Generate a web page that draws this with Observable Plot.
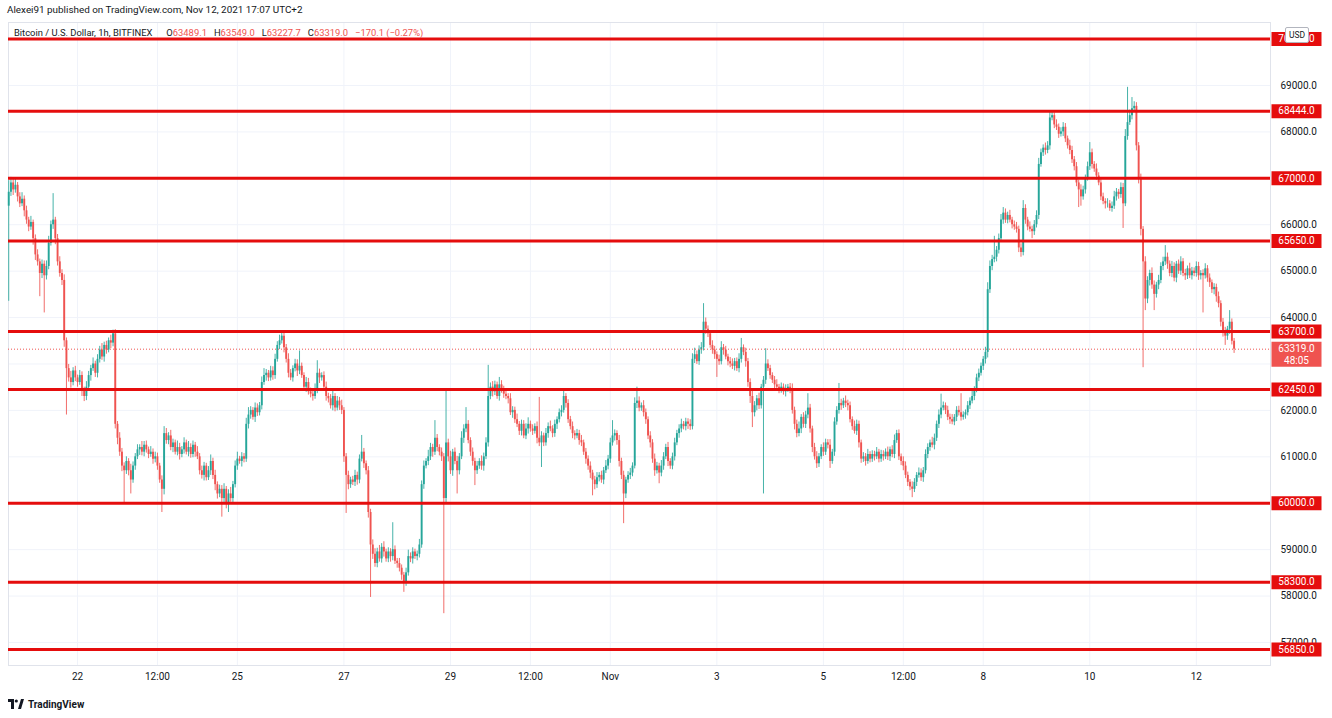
<!DOCTYPE html>
<html>
<head>
<meta charset="utf-8">
<script src="https://cdn.jsdelivr.net/npm/d3@7"></script>
<script src="https://cdn.jsdelivr.net/npm/@observablehq/plot@0.6"></script>
<style>
  html, body { margin: 0; padding: 0; background: #ffffff; width: 1332px; height: 718px; overflow: hidden; }
  body { position: relative; font-family: Roboto, "Liberation Sans", sans-serif; color: #131722; }
  #header { position: absolute; left: 7px; top: 4px; font-size: 9.9px; color: #131722; white-space: nowrap; }
  #chart { position: absolute; left: 0; top: 22px; }
  #legend { position: absolute; left: 14px; top: 27px; font-size: 9.4px; color: #131722; white-space: nowrap; }
  #legend .t { margin-right: 14px; }
  #legend .v { color: #ef5350; margin-right: 7px; }
  #usd { position: absolute; left: 1285px; top: 27px; width: 22px; height: 14px; background: #fff; border: 1px solid #b2b5be; border-radius: 2px; font-size: 8.5px; line-height: 14px; text-align: center; color: #131722; }
  #footer { position: absolute; left: 8px; top: 696px; height: 16px; display: flex; align-items: center; font-size: 10px; font-weight: 700; color: #131722; }
  #footer svg { margin-right: 4px; }
</style>
</head>
<body>
<div id="header">Alexei91 published on TradingView.com, Nov 12, 2021 17:07 UTC+2</div>
<div id="chart"></div>
<div id="legend"></div>
<div id="usd">USD</div>
<div id="footer"><svg width="16" height="10" viewBox="0 0 16 10"><path d="M0 0h6v10H3V3H0z" fill="#131722"/><circle cx="8.3" cy="2" r="1.6" fill="#131722"/><path d="M10 10L13 0h3l-3 10z" fill="#131722"/></svg>TradingView</div>
<script>
// ---------- data (hourly candles, Bitfinex BTC/USD, from Oct 20 17:00 to Nov 12 17:00) ----------
const firstHour = -31;        // first candle, hours relative to Oct 22 00:00
const firstOpen = 66400;
const closes = [
  66700,66900,66750,66850,66600,66450,66550,66300,66100,65950,66050,65700,65350,65200,64950,65150,64900,65100,65600,66000,66100,65700,65200,64950,
  64800,63500,62900,62700,62600,62850,62700,62600,62750,62450,62300,62500,62750,62900,63000,62800,63100,63300,63150,63400,63300,63500,63450,63650,
  61700,61400,61100,60800,60700,60900,60700,60500,60800,61000,61150,61200,61100,61250,61150,61050,61100,60950,61000,60800,60500,60300,61500,61350,
  61450,61200,61300,61100,61200,61050,61150,61300,61100,61200,61050,61250,61100,61000,60700,60600,60800,60550,60700,60900,60600,60400,60200,60300,
  60100,60300,60000,60200,60100,60400,60800,60950,60900,61000,60950,61700,61900,62000,61850,62050,61950,62100,62600,62750,62800,62700,62850,62750,
  63100,63400,63500,63600,63350,63100,62800,62700,62900,63000,62850,62950,62750,62500,62600,62400,62350,62300,62450,62800,62700,62750,62500,62300,
  62250,62100,62300,62050,62200,62100,62000,61000,60600,60400,60500,60450,60600,60500,60950,61100,60850,60700,59800,59100,58900,58700,58950,58800,
  59050,58950,58800,58950,58850,59000,58750,58700,58600,58450,58300,58500,58850,58800,58950,58850,58900,59100,60400,60800,60900,61000,61200,61100,
  61400,61200,61100,61000,60100,61300,61000,60700,61100,60900,60700,61000,61400,61600,61700,61350,61100,60900,60700,60800,60900,60800,61000,61300,
  62300,62500,62400,62550,62300,62550,62450,62350,62300,62250,61950,62000,61800,61700,61550,61700,61450,61600,61700,61600,61550,61650,61400,61300,
  61450,61300,61500,61650,61600,61500,61700,61800,61950,62000,62300,62150,61800,61650,61500,61450,61500,61350,61300,61100,60950,60800,60650,60500,
  60400,60550,60600,60500,60700,60800,60950,61300,61450,61500,61350,60900,60600,60200,60500,60600,60650,60800,62150,62200,62050,62100,61950,61800,
  61450,61300,60950,60700,60800,60650,60800,61000,61200,60900,60800,61000,61300,61500,61600,61700,61650,61750,61700,61650,63100,63200,63050,63300,
  63350,63900,63750,63650,63400,63300,63200,63100,63050,63350,63300,63150,63050,63000,62950,63050,62900,63100,63350,63250,63050,62600,62300,61950,
  62100,62250,62100,62500,62650,63000,62900,62750,62650,62550,62500,62450,62500,62400,62450,62500,62450,62000,61700,61500,61600,61850,61700,61900,
  62050,61600,61200,61000,60850,61000,61200,61100,61300,61250,60900,61100,61750,62000,62150,62100,62200,62150,62100,61800,61650,61550,61700,61300,
  60950,61000,60900,61050,60950,61050,61000,61100,60950,61050,61000,61100,61000,61150,61050,61350,61500,61000,60900,60800,60600,60450,60350,60300,
  60450,60600,60650,60550,60700,61050,61200,61300,61250,61400,61700,61900,62050,62100,62000,61850,61800,61750,61850,62000,61950,61850,61900,61950,
  62100,62200,62300,62450,62700,62800,62950,63100,63250,64600,65100,65250,65300,65450,65700,66100,66250,66100,66200,66100,66000,65950,65900,65500,
  65400,66350,66100,65950,65900,65850,66000,66200,67300,67550,67650,67600,67700,68300,68350,68150,68100,67950,68000,68100,67850,67700,67600,67400,
  67250,66900,66750,66600,66750,67000,67250,67550,67300,67200,67050,66900,66600,66500,66450,66450,66350,66400,66600,66700,66650,66800,66450,67900,
  68200,68350,68500,68550,67700,67000,65900,65200,64400,64800,64950,64700,64500,64700,64800,65100,65200,65300,65150,64950,65100,64850,65150,65000,
  65200,64950,64900,65050,64900,65000,64950,65100,64900,64950,64900,65050,64850,64750,64600,64650,64450,64300,63900,63700,63600,63750,63900,63489.1,63319.0
];
// upper / lower wick lengths in dollars, beyond the candle body
const wickUp = [
  250,120,80,150,60,90,140,70,100,60,130,50,80,110,60,90,70,120,150,80,570,60,90,110,
  80,120,60,90,140,70,100,60,110,80,50,120,90,70,130,60,100,80,140,70,90,60,120,80,
  90,60,120,80,70,100,60,140,90,70,110,60,130,80,90,60,120,70,100,80,60,90,150,110,
  70,120,80,60,140,90,70,110,60,130,80,90,60,120,70,100,80,60,90,140,70,110,60,90,
  80,120,60,90,140,70,110,150,60,90,70,130,160,80,60,110,90,70,120,150,80,60,100,90,
  110,80,120,60,90,70,120,80,60,100,90,330,70,60,110,90,80,60,120,270,90,60,80,110,
  70,90,130,60,100,80,120,60,70,90,60,80,110,70,90,360,80,60,90,70,110,120,80,140,
  80,120,60,90,70,580,80,60,110,70,60,100,140,80,90,60,70,120,80,110,60,140,90,70,
  380,80,60,90,70,1130,80,120,60,90,110,70,140,90,360,80,60,90,70,100,60,120,80,110,
  670,90,120,80,60,160,90,70,100,60,110,80,70,120,60,90,80,110,140,70,90,60,100,880,
  90,60,110,80,120,70,90,60,80,100,130,60,80,70,100,60,90,70,110,60,80,70,90,60,
  80,110,60,90,70,120,80,100,330,80,60,110,70,90,60,80,100,70,120,300,90,60,110,80,
  60,90,70,110,80,60,120,90,70,110,60,80,100,70,90,110,60,80,70,100,120,140,80,90,
  110,400,90,70,60,100,80,60,90,130,70,80,60,90,110,70,80,120,200,60,90,70,80,110,
  90,70,120,60,80,330,90,70,60,80,110,60,90,70,100,60,80,120,70,90,150,60,100,80,
  310,80,60,90,110,70,60,100,80,70,120,60,90,80,430,90,60,110,70,80,60,120,90,70,
  60,90,70,110,60,80,70,100,60,90,80,70,110,60,90,120,70,80,60,100,90,70,60,110,
  80,60,110,90,70,100,80,60,120,90,70,110,300,80,60,90,70,110,60,80,90,410,70,60,
  90,70,110,60,80,90,70,60,110,150,120,90,450,80,100,120,120,90,70,110,60,80,100,70,
  90,170,80,60,110,70,90,100,130,80,70,110,90,160,80,60,110,70,90,100,80,60,120,90,
  70,90,60,110,80,70,100,220,80,60,110,70,90,80,60,110,70,90,120,80,60,100,90,150,
  760,120,240,100,80,70,90,60,110,80,70,120,90,60,110,80,100,250,90,70,110,80,60,90,
  110,70,90,60,120,80,70,100,90,60,80,110,70,90,60,80,70,100,60,80,90,60,250,70,59.9
];
const wickDn = [
  2050,90,120,70,110,80,60,130,90,100,70,140,120,90,500,110,800,90,70,60,100,130,90,80,
  110,140,1000,90,120,70,80,100,60,150,110,90,70,120,60,90,100,80,70,110,90,60,120,80,
  100,140,90,120,700,80,110,300,70,90,60,120,80,100,70,90,60,110,80,90,70,500,120,80,
  90,70,110,60,80,120,70,90,60,100,80,70,110,60,90,80,120,70,60,100,90,130,110,80,
  400,90,120,200,80,110,70,90,60,120,80,70,100,90,60,110,80,70,90,60,120,80,70,100,
  80,60,90,70,110,80,100,60,90,70,120,80,60,90,110,70,80,100,60,90,120,70,80,100,
  90,70,110,80,60,100,90,120,820,110,80,70,90,110,80,60,100,90,120,1130,110,80,90,70,
  90,110,70,80,120,90,70,100,80,110,220,90,70,80,110,60,90,80,70,100,60,90,80,110,
  70,90,80,100,2480,90,110,80,120,70,500,90,60,110,80,70,90,100,320,80,70,90,110,60,
  90,70,110,80,60,100,80,90,70,110,60,120,80,70,90,100,60,80,110,70,90,60,120,80,
  530,80,70,100,60,90,80,110,70,90,60,100,80,70,110,90,60,100,80,70,110,90,120,340,
  110,80,90,70,100,60,80,90,70,110,100,120,90,640,100,70,90,80,60,110,80,70,90,100,
  80,110,90,120,70,230,80,90,60,110,70,80,90,60,100,80,70,90,110,80,70,90,60,80,
  90,70,110,80,60,90,100,390,80,70,110,60,90,80,70,100,60,90,80,70,120,100,150,320,
  90,110,80,70,2300,90,60,80,70,100,60,90,80,70,110,60,90,80,120,90,70,100,80,90,
  80,90,110,70,100,80,60,90,70,80,150,60,90,70,80,100,60,90,110,70,80,60,90,110,
  90,70,100,60,80,70,90,60,80,70,90,60,80,100,70,90,60,80,90,100,70,90,80,180,
  70,90,60,80,100,70,90,80,60,100,70,90,80,60,90,70,100,60,80,90,70,80,60,90,
  70,80,60,90,70,80,60,90,100,120,80,90,70,100,80,60,90,70,80,60,90,70,80,100,
  100,70,90,80,60,150,80,70,90,60,80,100,70,90,60,80,70,90,60,100,80,70,90,80,
  90,80,380,200,70,90,60,80,100,70,90,60,80,70,110,90,60,80,70,90,100,80,530,60,
  80,60,90,70,110,120,140,2280,250,100,120,90,350,80,100,70,90,80,110,70,90,80,100,70,
  90,70,100,80,60,90,70,80,100,90,800,70,90,100,80,110,120,90,100,120,200,90,110,80,91.3
];
// horizontal support / resistance levels drawn by the author
const levels = [70000, 68444, 67000, 65650, 63700, 62450, 60000, 58300, 56850];
const lastPrice = 63319.0;
const countdown = "48:05";
// axes
const priceTicks = [57000, 58000, 59000, 60000, 61000, 62000, 63000, 64000, 65000, 66000, 67000, 68000, 69000];
const timeTicks  = [0, 36, 72, 120, 168, 204, 240, 288, 336, 372, 408, 456, 504]; // hours from Oct 22 00:00
const timeLabels = ["22", "12:00", "25", "27", "29", "12:00", "Nov", "3", "5", "12:00", "8", "10", "12"];
// legend
const legendTitle = "Bitcoin / U.S. Dollar, 1h, BITFINEX";
const legendKeys = ["O", "H", "L", "C", ""];
const legendVals = ["63489.1", "63549.0", "63227.7", "63319.0", "\u2212170.1 (\u22120.27%)"];

// ---------- build ----------
const UP = "#26a69a", DOWN = "#ef5350", LEVEL = "#e50d0d";
const candles = closes.map((c, i) => {
  const o = i === 0 ? firstOpen : closes[i - 1];
  return { h: firstHour + i, o, c, hi: Math.max(o, c) + wickUp[i], lo: Math.min(o, c) - wickDn[i], up: c >= o };
});

const W = 1332, H = 672;
const boxW = 50;
const levelBox = { draw(ctx) { ctx.rect(-boxW / 2, -7, boxW, 14); } };
const priceBox = { draw(ctx) { ctx.rect(-boxW / 2, -7.5, boxW, 25); } };
// TradingView hides a price-scale label where a level / price label sits on top of it
const shownTicks = priceTicks.filter(t =>
  !levels.some(l => Math.abs(l - t) < 100) && !(t > lastPrice - 500 && t < lastPrice + 250));

const chart = Plot.plot({
  width: W,
  height: H,
  marginLeft: 8,
  marginRight: 62,
  marginTop: 0,
  marginBottom: 29,
  style: { fontFamily: "Roboto, 'Liberation Sans', sans-serif", fontSize: "10px", color: "#131722", background: "#ffffff" },
  x: { type: "linear", domain: [-31.1, 537.4], label: null },
  y: { type: "linear", domain: [56504, 70357], label: null },
  marks: [
    Plot.gridY(priceTicks, { stroke: "#f0f3fa", strokeOpacity: 1 }),
    Plot.gridX(timeTicks, { stroke: "#f0f3fa", strokeOpacity: 1 }),
    Plot.frame({ stroke: "#e0e3eb" }),
    Plot.ruleX(candles, { x: "h", y1: "lo", y2: "hi", stroke: d => d.up ? UP : DOWN, strokeWidth: 1, strokeOpacity: 0.85 }),
    Plot.ruleX(candles, { x: "h", y1: "o", y2: "c", stroke: d => d.up ? UP : DOWN, strokeWidth: 1.9 }),
    Plot.ruleY([lastPrice], { stroke: DOWN, strokeWidth: 1, strokeDasharray: "1,2" }),
    Plot.ruleY(levels, { stroke: LEVEL, strokeWidth: 3 }),
    Plot.axisY(shownTicks, { anchor: "right", label: null, tickSize: 0, tickPadding: 10, tickFormat: d => d.toFixed(1), fontSize: 10, fill: "#131722" }),
    Plot.axisX(timeTicks, { anchor: "bottom", label: null, tickSize: 0, tickPadding: 7, tickFormat: d => timeLabels[timeTicks.indexOf(d)], fontSize: 10, fill: "#131722" }),
    Plot.dot(levels, { y: d => d, frameAnchor: "right", dx: boxW / 2 + 1, symbol: levelBox, r: 5, fill: LEVEL, stroke: "none" }),
    Plot.text(levels, { y: d => d, frameAnchor: "right", dx: boxW / 2 + 1, textAnchor: "middle", text: d => d.toFixed(1), fill: "#ffffff", fontSize: 10 }),
    Plot.dot([lastPrice], { y: d => d, frameAnchor: "right", dx: boxW / 2 + 1, symbol: priceBox, r: 5, fill: DOWN, stroke: "none" }),
    Plot.text([lastPrice], { y: d => d, frameAnchor: "right", dx: boxW / 2 + 1, textAnchor: "middle", text: d => d.toFixed(1), fill: "#ffffff", fontSize: 10 }),
    Plot.text([lastPrice], { y: d => d, frameAnchor: "right", dx: boxW / 2 + 1, dy: 12, textAnchor: "middle", text: () => countdown, fill: "#ffffff", fontSize: 10 })
  ]
});
document.getElementById("chart").appendChild(chart);

const lg = document.getElementById("legend");
let html = '<span class="t">' + legendTitle + "</span>";
legendKeys.forEach((k, i) => { html += k + '<span class="v">' + legendVals[i] + "</span>"; });
lg.innerHTML = html;
</script>
</body>
</html>
